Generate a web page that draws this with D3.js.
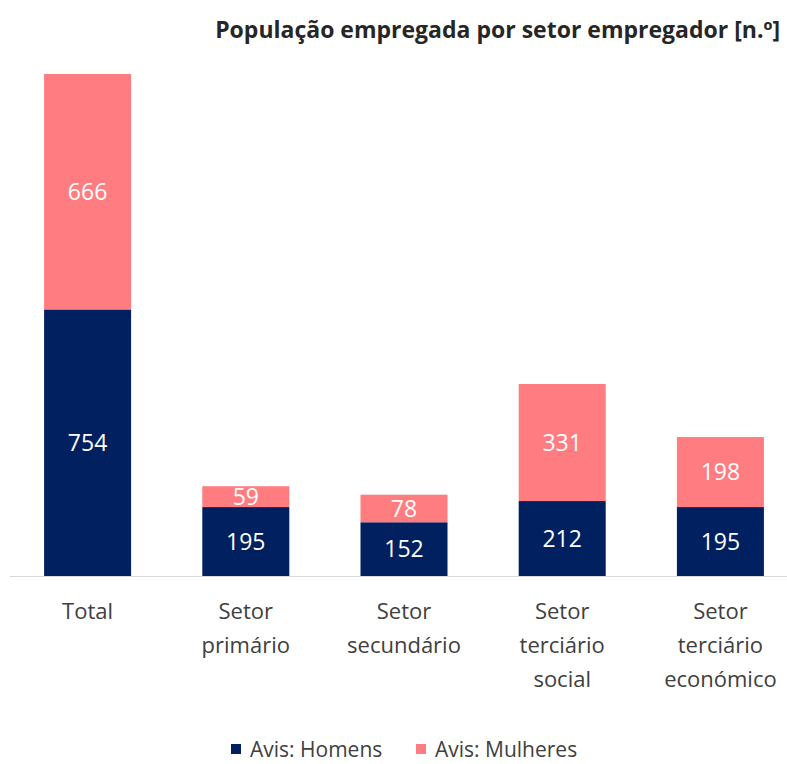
<!DOCTYPE html>
<html>
<head>
<meta charset="utf-8">
<script src="https://cdn.jsdelivr.net/npm/d3@7"></script>
<style>
  body { margin: 0; background: #fff; }
  svg { display: block; font-family: "Open Sans", "Noto Sans", sans-serif; }
</style>
</head>
<body>
<div id="chart"></div>
<script>
// Stacked bars: employed population by sector (Avis)
const categories = [
    ['Total'],
    ['Setor', 'primário'],
    ['Setor', 'secundário'],
    ['Setor', 'terciário', 'social'],
    ['Setor', 'terciário', 'económico']
];
const homens = [754, 195, 152, 212, 195];
const mulheres = [666, 59, 78, 331, 198];
const seriesNames = ['Avis: Homens', 'Avis: Mulheres'];
const colors = ['#002060', '#FF7C80'];

const width = 787, height = 764;
const baseline = 576;
const plotTop = 74;

const svg = d3.select('#chart')
    .append('svg')
    .attr('width', width)
    .attr('height', height);

const x = d3.scaleBand()
    .domain(d3.range(categories.length))
    .range([8.5, 799.5])
    .paddingInner(0.45)
    .paddingOuter(0.225);

const y = d3.scaleLinear()
    .domain([0, d3.max(homens.map((h, i) => h + mulheres[i]))])
    .range([baseline, plotTop]);

const rows = categories.map((c, i) => ({ i, homens: homens[i], mulheres: mulheres[i] }));
const stack = d3.stack().keys(['homens', 'mulheres'])(rows);

// title
svg.append('text')
    .attr('x', 780)
    .attr('y', 38)
    .attr('text-anchor', 'end')
    .attr('font-size', '23px')
    .attr('font-weight', '700')
    .attr('fill', '#262626')
    .text('População empregada por setor empregador [n.º]');

// baseline
svg.append('line')
    .attr('x1', 10)
    .attr('x2', width)
    .attr('y1', baseline + 0.5)
    .attr('y2', baseline + 0.5)
    .attr('stroke', '#d9d9d9')
    .attr('stroke-width', 1);

const layer = svg.selectAll('g.layer')
    .data(stack)
    .join('g')
    .attr('class', 'layer')
    .attr('fill', (d, i) => colors[i]);

layer.selectAll('rect')
    .data(d => d)
    .join('rect')
    .attr('x', d => x(d.data.i))
    .attr('width', x.bandwidth())
    .attr('y', d => y(d[1]))
    .attr('height', d => y(d[0]) - y(d[1]));

layer.selectAll('text')
    .data(d => d)
    .join('text')
    .attr('x', d => x(d.data.i) + x.bandwidth() / 2)
    .attr('y', d => (y(d[0]) + y(d[1])) / 2)
    .attr('dy', '0.36em')
    .attr('text-anchor', 'middle')
    .attr('font-size', '23px')
    .attr('fill', 'white')
    .text(d => d[1] - d[0]);

// category labels
const catLabel = svg.selectAll('text.cat')
    .data(categories)
    .join('text')
    .attr('class', 'cat')
    .attr('text-anchor', 'middle')
    .attr('font-size', '22px')
    .attr('fill', '#404040');

catLabel.selectAll('tspan')
    .data((d, i) => d.map((line, j) => ({ line, j, i })))
    .join('tspan')
    .attr('x', d => x(d.i) + x.bandwidth() / 2)
    .attr('y', d => 619 + d.j * 34)
    .text(d => d.line);

// legend
const legendX = [231, 416];
const legend = svg.selectAll('g.legend')
    .data(seriesNames)
    .join('g')
    .attr('class', 'legend')
    .attr('transform', (d, i) => `translate(${legendX[i]},744)`);

legend.append('rect')
    .attr('width', 10)
    .attr('height', 10)
    .attr('fill', (d, i) => colors[i]);

legend.append('text')
    .attr('x', 19)
    .attr('y', 13)
    .attr('font-size', '21px')
    .attr('fill', '#404040')
    .text(d => d);
</script>
</body>
</html>
